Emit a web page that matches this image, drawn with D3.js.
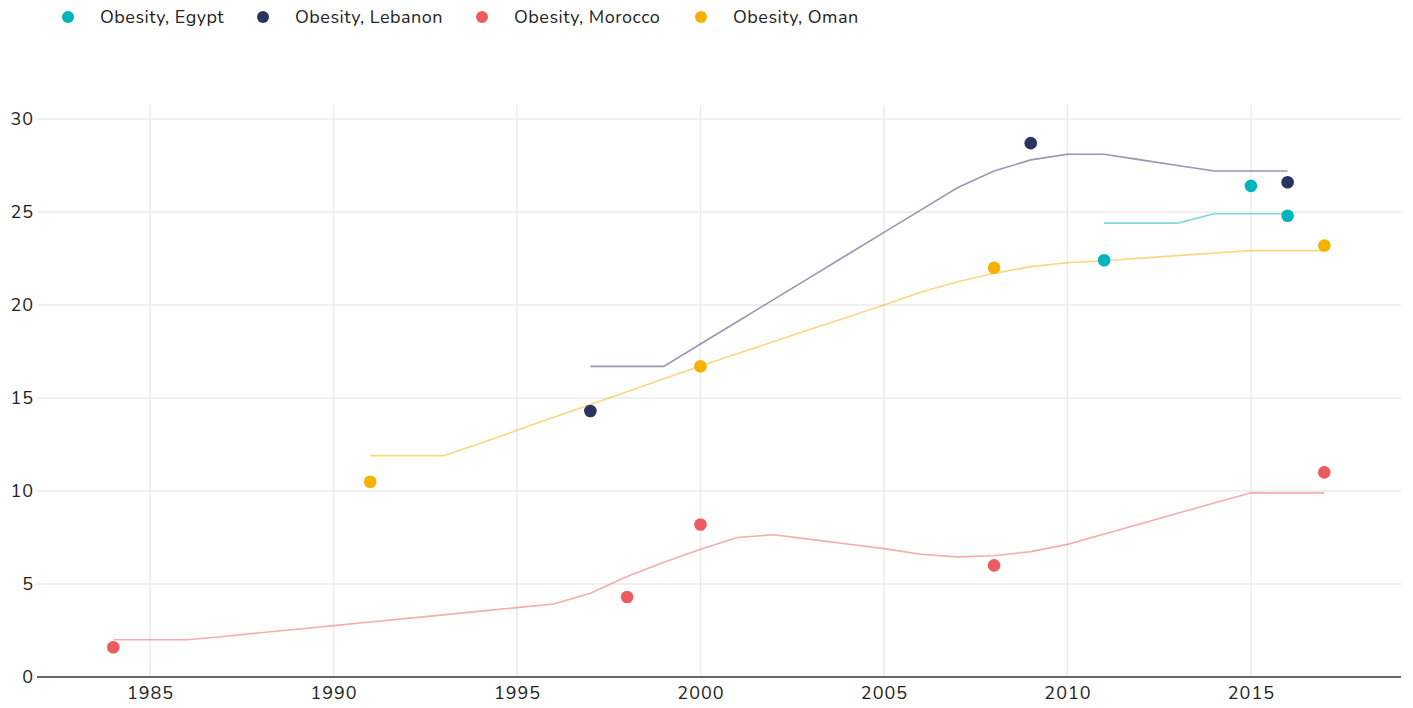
<!DOCTYPE html>
<html>
<head>
<meta charset="utf-8">
<script src="https://cdn.jsdelivr.net/npm/d3@7"></script>
<style>
  html, body { margin: 0; padding: 0; background: #fff; }
  svg { display: block; font-family: Nunito, Lato, "Noto Sans", sans-serif; }
</style>
</head>
<body>
<svg id="chart" width="1413" height="708"></svg>
<script>
// ---- data ----
const seriesNames = ["Obesity, Egypt", "Obesity, Lebanon", "Obesity, Morocco", "Obesity, Oman"];
const seriesColors = ["#00b3bd", "#2a3461", "#ec5b5e", "#f6b000"];

// observed points
const egyptPtYears = [2011, 2015, 2016];
const egyptPtValues = [22.4, 26.4, 24.8];
const lebanonPtYears = [1997, 2009, 2016];
const lebanonPtValues = [14.3, 28.7, 26.6];
const moroccoPtYears = [1984, 1998, 2000, 2008, 2017];
const moroccoPtValues = [1.6, 4.3, 8.2, 6.0, 11.0];
const omanPtYears = [1991, 2000, 2008, 2017];
const omanPtValues = [10.5, 16.7, 22.0, 23.2];

// trend lines
const egyptLineYears = [2011, 2012, 2013, 2014, 2015, 2016];
const egyptLineValues = [24.4, 24.4, 24.4, 24.9, 24.9, 24.9];
const lebanonLineYears = [1997, 1998, 1999, 2000, 2001, 2002, 2003, 2004, 2005, 2006, 2007, 2008, 2009, 2010, 2011, 2012, 2013, 2014, 2015, 2016];
const lebanonLineValues = [16.7, 16.7, 16.7, 17.9, 19.1, 20.3, 21.5, 22.7, 23.9, 25.1, 26.3, 27.2, 27.8, 28.1, 28.1, 27.8, 27.5, 27.2, 27.2, 27.2];
const moroccoLineYears = [1984, 1985, 1986, 1987, 1988, 1989, 1990, 1991, 1992, 1993, 1994, 1995, 1996, 1997, 1998, 1999, 2000, 2001, 2002, 2003, 2004, 2005, 2006, 2007, 2008, 2009, 2010, 2011, 2012, 2013, 2014, 2015, 2016, 2017];
const moroccoLineValues = [2.0, 2.0, 2.0, 2.18, 2.38, 2.57, 2.76, 2.96, 3.15, 3.34, 3.54, 3.73, 3.92, 4.5, 5.4, 6.17, 6.87, 7.5, 7.65, 7.4, 7.15, 6.9, 6.6, 6.46, 6.52, 6.74, 7.13, 7.69, 8.24, 8.8, 9.35, 9.9, 9.9, 9.9];
const omanLineYears = [1991, 1992, 1993, 1994, 1995, 1996, 1997, 1998, 1999, 2000, 2001, 2002, 2003, 2004, 2005, 2006, 2007, 2008, 2009, 2010, 2011, 2012, 2013, 2014, 2015, 2016, 2017];
const omanLineValues = [11.9, 11.9, 11.9, 12.57, 13.26, 13.96, 14.65, 15.34, 16.04, 16.72, 17.38, 18.03, 18.69, 19.34, 20.0, 20.68, 21.25, 21.7, 22.06, 22.27, 22.38, 22.52, 22.65, 22.79, 22.92, 22.92, 22.92];

const xTicks = [1985, 1990, 1995, 2000, 2005, 2010, 2015];
const yTicks = [0, 5, 10, 15, 20, 25, 30];

// ---- build ----
const zip = (xs, ys) => xs.map((x, i) => ({ x, y: ys[i] }));
const series = [
  { name: seriesNames[0], color: seriesColors[0], pts: zip(egyptPtYears, egyptPtValues), line: zip(egyptLineYears, egyptLineValues) },
  { name: seriesNames[1], color: seriesColors[1], pts: zip(lebanonPtYears, lebanonPtValues), line: zip(lebanonLineYears, lebanonLineValues) },
  { name: seriesNames[2], color: seriesColors[2], pts: zip(moroccoPtYears, moroccoPtValues), line: zip(moroccoLineYears, moroccoLineValues) },
  { name: seriesNames[3], color: seriesColors[3], pts: zip(omanPtYears, omanPtValues), line: zip(omanLineYears, omanLineValues) }
];

const svg = d3.select("#chart");
const mLeft = 37, mRight = 1401, mTop = 105, mBottom = 677;
const FONT = "Nunito, Lato, 'Noto Sans', sans-serif";

const x = d3.scaleLinear().domain([1981.92, 2019.09]).range([mLeft, mRight]);
const y = d3.scaleLinear().domain([0, 30.75]).range([mBottom, mTop]);

// grid
const grid = svg.append("g");
grid.selectAll(".vg").data(xTicks).join("line")
  .attr("x1", d => x(d)).attr("x2", d => x(d))
  .attr("y1", mTop).attr("y2", mBottom)
  .attr("stroke", "#ebebeb").attr("stroke-width", 1.5);
grid.selectAll(".hg").data(yTicks.filter(d => d > 0)).join("line")
  .attr("x1", mLeft).attr("x2", mRight)
  .attr("y1", d => y(d)).attr("y2", d => y(d))
  .attr("stroke", "#ebebeb").attr("stroke-width", 1.5);

// y axis labels
const yAxis = svg.append("g").attr("transform", `translate(${mLeft},0)`)
  .call(d3.axisLeft(y).tickValues(yTicks).tickSize(0).tickPadding(3));
yAxis.select(".domain").remove();
yAxis.selectAll("text").attr("font-size", 18).attr("fill", "#222")
  .style("font-family", FONT).style("letter-spacing", "1px");

// x axis
const xAxis = svg.append("g").attr("transform", `translate(0,${mBottom})`)
  .call(d3.axisBottom(x).tickValues(xTicks).tickFormat(d3.format("d")).tickSize(0).tickPadding(9));
xAxis.select(".domain").attr("stroke", "#666").attr("stroke-width", 2)
  .attr("d", `M${mLeft},0H${mRight}`);
xAxis.selectAll("text").attr("font-size", 18).attr("fill", "#222")
  .style("font-family", FONT).style("letter-spacing", "1px");

// lines
const lineGen = d3.line().x(d => x(d.x)).y(d => y(d.y));
svg.append("g").selectAll("path").data(series).join("path")
  .attr("d", d => lineGen(d.line))
  .attr("fill", "none")
  .attr("stroke", d => d.color)
  .attr("stroke-opacity", 0.5)
  .attr("stroke-width", 1.6);

// points
series.forEach(s => {
  svg.append("g").selectAll("circle").data(s.pts).join("circle")
    .attr("cx", d => x(d.x)).attr("cy", d => y(d.y))
    .attr("r", 6.3).attr("fill", s.color);
});

// legend
const legendX = [68, 263, 482, 701];
const legend = svg.append("g");
series.forEach((s, i) => {
  legend.append("circle").attr("cx", legendX[i]).attr("cy", 17).attr("r", 6).attr("fill", s.color);
  legend.append("text").attr("x", legendX[i] + 32).attr("y", 17).attr("dy", "0.35em")
    .attr("font-size", 18).style("letter-spacing", "0.5px")
    .attr("fill", "#222").text(s.name);
});
</script>
</body>
</html>
